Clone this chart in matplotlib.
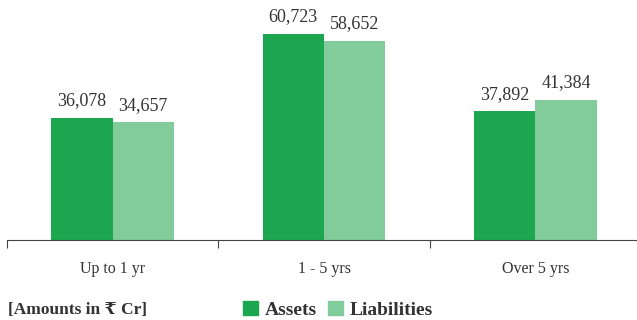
import matplotlib.pyplot as plt
import numpy as np
from matplotlib.patches import Patch

categories = ["Up to 1 yr", "1 - 5 yrs", "Over 5 yrs"]
assets = [36078, 60723, 37892]
liabilities = [34657, 58652, 41384]
series_names = ["Assets", "Liabilities"]

c_assets = "#1ba64f"
c_liab = "#82cb9a"
text_col = "#333333"
serif = ["Liberation Serif", "DejaVu Serif", "DejaVu Sans"]

plt.rcParams["font.family"] = serif

fig = plt.figure(figsize=(6.37, 3.2), dpi=100)
ax = fig.add_axes([7 / 637, 80 / 320, 634 / 637, 240 / 320])

x = np.arange(len(categories))
w = 0.29
b1 = ax.bar(x - w / 2, assets, w, color=c_assets)
b2 = ax.bar(x + w / 2, liabilities, w, color=c_liab)

for bars in (b1, b2):
    for rect in bars:
        ax.annotate(f"{int(rect.get_height()):,}",
                    (rect.get_x() + rect.get_width() / 2, rect.get_height()),
                    xytext=(0, 6), textcoords="offset points",
                    ha="center", va="bottom", fontsize=13, color=text_col)

ax.set_xlim(-0.5, 2.5)
ax.set_ylim(0, 70700)
for s in ("top", "right", "left"):
    ax.spines[s].set_visible(False)
ax.spines["bottom"].set_color("#444444")
ax.set_yticks([])

# category boundaries as ticks, labels on minor ticks
ax.set_xticks([-0.5, 0.5, 1.5, 2.5])
ax.set_xticklabels([])
ax.tick_params(axis="x", which="major", direction="out", length=6, color="#444444")
ax.set_xticks(x, minor=True)
ax.set_xticklabels(categories, minor=True)
ax.tick_params(axis="x", which="minor", length=0, pad=15, labelsize=11.5, labelcolor=text_col)

fig.text(8 / 637, 1 - 310 / 320, "[Amounts in ₹ Cr]", fontsize=12.5, fontweight="bold",
         color=text_col, va="center", ha="left", family=serif)

handles = [Patch(color=c_assets), Patch(color=c_liab)]
fig.legend(handles, series_names, loc="center left",
           bbox_to_anchor=(243 / 637, 1 - 310 / 320), ncol=2, frameon=False,
           handlelength=0.75, handleheight=0.75, handletextpad=0.35,
           columnspacing=0.6, borderaxespad=0, borderpad=0,
           prop={"family": serif, "weight": "bold", "size": 14})
for t in fig.legends[0].get_texts():
    t.set_color(text_col)

fig.savefig("out.png", dpi=100)
